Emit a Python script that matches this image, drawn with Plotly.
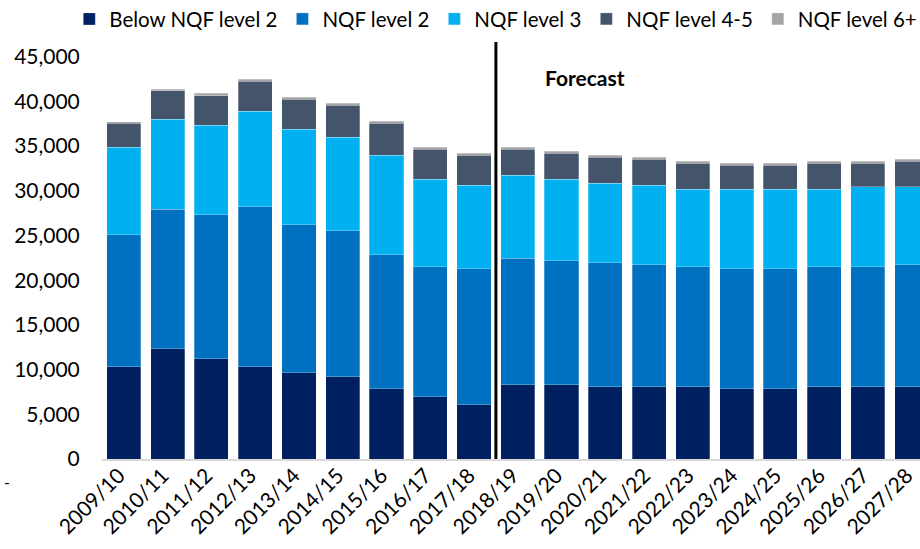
import plotly.graph_objects as go

years = ["2009/10", "2010/11", "2011/12", "2012/13", "2013/14", "2014/15", "2015/16",
         "2016/17", "2017/18", "2018/19", "2019/20", "2020/21", "2021/22", "2022/23",
         "2023/24", "2024/25", "2025/26", "2026/27", "2027/28"]

below_l2 = [10300, 12340, 11220, 10320, 9650, 9210, 7860, 6970, 6070, 8310,
            8310, 8090, 8090, 8090, 7860, 7860, 8090, 8090, 8090]
level_2 = [14800, 15620, 16110, 17900, 16560, 16330, 14990, 14540, 15220, 14140,
           13880, 13870, 13640, 13420, 13430, 13430, 13420, 13420, 13640]
level_3 = [9800, 10070, 10030, 10710, 10700, 10480, 11150, 9810, 9360, 9320,
           9130, 8910, 8920, 8690, 8910, 8910, 8690, 8920, 8700]
level_4_5 = [2650, 3170, 3280, 3350, 3320, 3540, 3550, 3320, 3320, 2870,
             2870, 2910, 2910, 2910, 2690, 2690, 2910, 2680, 2900]
level_6 = [200, 190, 260, 220, 230, 260, 220, 230, 230, 260,
           260, 220, 220, 220, 220, 220, 220, 220, 230]

series = [
    ("Below NQF level 2", below_l2, "#002060"),
    ("NQF level 2", level_2, "#0070C0"),
    ("NQF level 3", level_3, "#00B0F0"),
    ("NQF level 4-5", level_4_5, "#44546A"),
    ("NQF level 6+", level_6, "#A5A5A5"),
]

font_family = "Lato, 'Open Sans', sans-serif"

fig = go.Figure()
for name, vals, color in series:
    fig.add_trace(go.Bar(
        x=years, y=vals, name=name,
        marker=dict(color=color, line=dict(color="rgba(255,255,255,0.45)", width=0.6)),
    ))

# forecast divider
fig.add_shape(type="line", xref="x", yref="y", x0=8.5, x1=8.5, y0=0, y1=46650,
              line=dict(color="black", width=3))
fig.add_annotation(x=10.54, y=42700, xref="x", yref="y", text="<b>Forecast</b>",
                   showarrow=False, font=dict(size=21, color="black", family=font_family))
fig.add_annotation(x=-0.122, y=-0.082, xref="paper", yref="paper", text="-",
                   showarrow=False, font=dict(size=16, color="black", family=font_family))

fig.update_layout(
    width=920, height=549,
    barmode="stack", bargap=0.22,
    paper_bgcolor="white", plot_bgcolor="white",
    font=dict(family=font_family, size=21, color="black"),
    margin=dict(l=102, r=0, t=42, b=90, autoexpand=False),
    legend=dict(orientation="h", x=-0.04, xanchor="left", y=1.055, yanchor="middle",
                font=dict(size=20.5), traceorder="normal", itemwidth=30),
    xaxis=dict(range=[-0.5, 18.19], tickangle=-45, showgrid=False,
               showline=True, linecolor="#D9D9D9", linewidth=2, ticks="",
               ticklabelshift=-5, ticklabelstandoff=-6, automargin=False),
    yaxis=dict(range=[0, 46650], tickvals=list(range(0, 45001, 5000)), tickformat=",",
               showgrid=False, zeroline=False, showline=False, automargin=False,
               ticks="outside", ticklen=17, tickcolor="rgba(0,0,0,0)"),
)

# drop the default 8px page margin so the chart sits flush in the window
fig.write_html("out.html", config={"displayModeBar": False},
               post_script="document.body.style.margin='0';")
